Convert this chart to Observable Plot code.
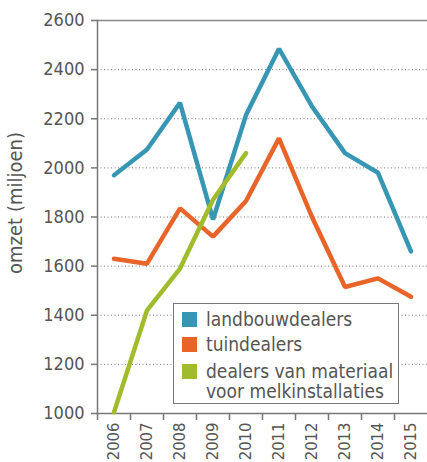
<!DOCTYPE html>
<html><head><meta charset="utf-8">
<script src="https://cdn.jsdelivr.net/npm/d3@7"></script>
<script src="https://cdn.jsdelivr.net/npm/@observablehq/plot@0.6"></script>
<style>
body{margin:0;background:#fff;}
#wrap{position:relative;width:427px;height:462px;font-family:"Liberation Sans Narrow","DejaVu Sans Condensed",sans-serif;color:#555;}
#legend{position:absolute;left:173px;top:303px;width:224px;height:99px;border:1.5px solid #777;background:#fff;font-size:19px;line-height:1;}
.row{position:absolute;left:8px;display:flex;align-items:flex-start;}
.sw{width:15px;height:15px;margin-right:9px;flex:none;}
</style></head>
<body><div id="wrap"></div>
<script>
const years = [2006, 2007, 2008, 2009, 2010, 2011, 2012, 2013, 2014, 2015];
const landbouwdealers = [1970, 2075, 2265, 1790, 2215, 2485, 2250, 2060, 1980, 1660];
const tuindealers = [1630, 1610, 1835, 1720, 1865, 2120, 1800, 1515, 1550, 1475];
const melkYears = [2006, 2007, 2008, 2009, 2010];
const melkinstallaties = [1005, 1420, 1590, 1870, 2060];
const yTicks = [1000, 1200, 1400, 1600, 1800, 2000, 2200, 2400, 2600];
const seriesNames = ["landbouwdealers", "tuindealers", "dealers van materiaal\nvoor melkinstallaties"];
const colors = ["#3796b4", "#e86428", "#a0bc2d"];

const grid = yTicks.filter(v => v > 1000 && v < 2600);
const bounds = years.map(y => y - 0.5);
const lineOpts = {strokeWidth: 4.5, strokeLinejoin: "miter", strokeLinecap: "round"};

const chart = Plot.plot({
  width: 427, height: 462,
  marginLeft: 97, marginRight: 0, marginTop: 20, marginBottom: 49,
  style: {fontFamily: '"Liberation Sans Narrow","DejaVu Sans Condensed",sans-serif', color: "#555", background: "#fff"},
  x: {type: "linear", domain: [2005.5, 2015.5], axis: null},
  y: {domain: [1000, 2600], axis: null},
  marks: [
    Plot.ruleY(grid, {stroke: "#777", strokeDasharray: "1,2.5", strokeWidth: 1}),
    Plot.ruleY([2600], {stroke: "#888", strokeWidth: 1.5}),
    Plot.frame({anchor: "left", stroke: "#777", strokeWidth: 1.5}),
    Plot.frame({anchor: "bottom", stroke: "#777", strokeWidth: 1.5}),
    Plot.axisY({ticks: yTicks, tickSize: 6, tickPadding: 7, fontSize: 18, label: null, stroke: "#777", strokeWidth: 1.5, tickFormat: d => String(d)}),
    Plot.axisX({ticks: bounds, tickSize: 7, tickFormat: () => "", label: null, stroke: "#777", strokeWidth: 1.5}),
    Plot.axisX({ticks: years, tickSize: 0, tickPadding: 9, tickRotate: -90, fontSize: 16.5, label: null, tickFormat: d => String(d)}),
    Plot.text(["omzet (miljoen)"], {frameAnchor: "left", textAnchor: "middle", rotate: -90, dx: -82, dy: -14, fontSize: 20, fill: "#555"}),
    Plot.line(years.map((y, i) => ({x: y, v: landbouwdealers[i]})), {x: "x", y: "v", stroke: colors[0], ...lineOpts}),
    Plot.line(years.map((y, i) => ({x: y, v: tuindealers[i]})), {x: "x", y: "v", stroke: colors[1], ...lineOpts}),
    Plot.line(melkYears.map((y, i) => ({x: y, v: melkinstallaties[i]})), {x: "x", y: "v", stroke: colors[2], ...lineOpts})
  ]
});
const wrap = document.getElementById("wrap");
wrap.appendChild(chart);

const legend = document.createElement("div");
legend.id = "legend";
const tops = [8, 33, 60];
seriesNames.forEach((name, i) => {
  const row = document.createElement("div");
  row.className = "row";
  row.style.top = tops[i] + "px";
  const sw = document.createElement("div");
  sw.className = "sw";
  sw.style.background = colors[i];
  const t = document.createElement("div");
  t.innerHTML = name.replace("\n", "<br>");
  t.style.lineHeight = "20px";
  t.style.marginTop = "-3px";
  row.appendChild(sw); row.appendChild(t);
  legend.appendChild(row);
});
wrap.appendChild(legend);
</script></body></html>
